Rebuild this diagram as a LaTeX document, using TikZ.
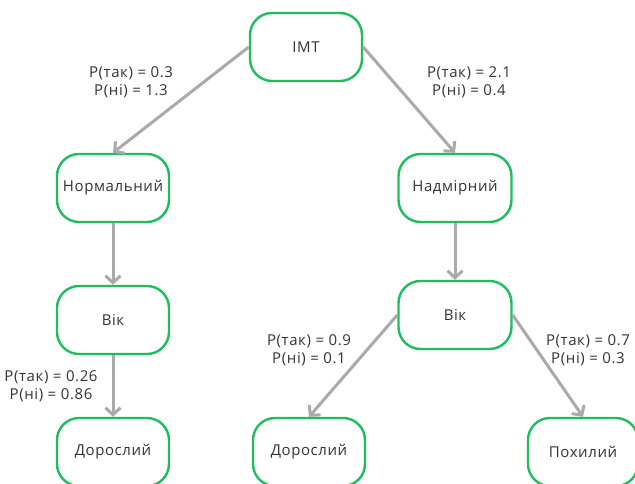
\documentclass[tikz,border=0pt]{standalone}
\usepackage{fontspec}
\setmainfont[LetterSpace=4]{Open Sans}
\usetikzlibrary{arrows.meta}
\definecolor{nodegreen}{HTML}{1EBE5E}
\definecolor{edgegray}{HTML}{AAAAAA}
\definecolor{textgray}{HTML}{333333}
\tikzset{
  treenode/.style={draw=nodegreen, line width=2.4pt, rounded corners=22pt,
    minimum width=112pt, minimum height=68pt, fill=white,
    text=textgray, font=\fontsize{15}{17}\selectfont},
  link/.style={draw=edgegray, line width=3pt,
    -{Straight Barb[length=7pt,width=15pt,line width=3pt]}},
  prob/.style={text=textgray, align=center, font=\fontsize{15}{18}\selectfont}
}
\begin{document}
\begin{tikzpicture}[x=1pt,y=-1pt]
\useasboundingbox (0,0) rectangle (635,484);
\clip (0,0) rectangle (635,484);
% tree nodes
\node[treenode] (imt) at (306,47) {ІМТ};
\node[treenode] (norm) at (113,188) {Нормальний};
\node[treenode, minimum width=113pt] (nadm) at (455,188) {Надмірний};
\node[treenode] (vikl) at (113,320) {Вік};
\node[treenode, minimum width=113pt] (vikr) at (455,315) {Вік};
\node[treenode] (dorl) at (113,452) {Дорослий};
\node[treenode] (dorm) at (309,452) {Дорослий};
\node[treenode, minimum width=110pt] (poh) at (583,452) {Похилий};
% connectors
\draw[link] (imt.west) -- (norm.north);
\draw[link] (imt.east) -- (nadm.north);
\draw[link] (norm.south) -- (vikl.north);
\draw[link] (nadm.south) -- (vikr.north);
\draw[link] (vikl.south) -- (dorl.north);
\draw[link] (vikr.west) -- (dorm.north);
\draw[link] (vikr.east) -- (poh.north);
% probability labels
\node[prob] (p1) at (131,82) {P(так) = 0.3\\P(ні) = 1.3};
\node[prob] (p2) at (469,82) {P(так) = 2.1\\P(ні) = 0.4};
\node[prob] (p3) at (51,386) {P(так) = 0.26\\P(ні) = 0.86};
\node[prob] (p4) at (309,350) {P(так) = 0.9\\P(ні) = 0.1};
\node[prob] (p5) at (588,350) {P(так) = 0.7\\P(ні) = 0.3};
\end{tikzpicture}
\end{document}
